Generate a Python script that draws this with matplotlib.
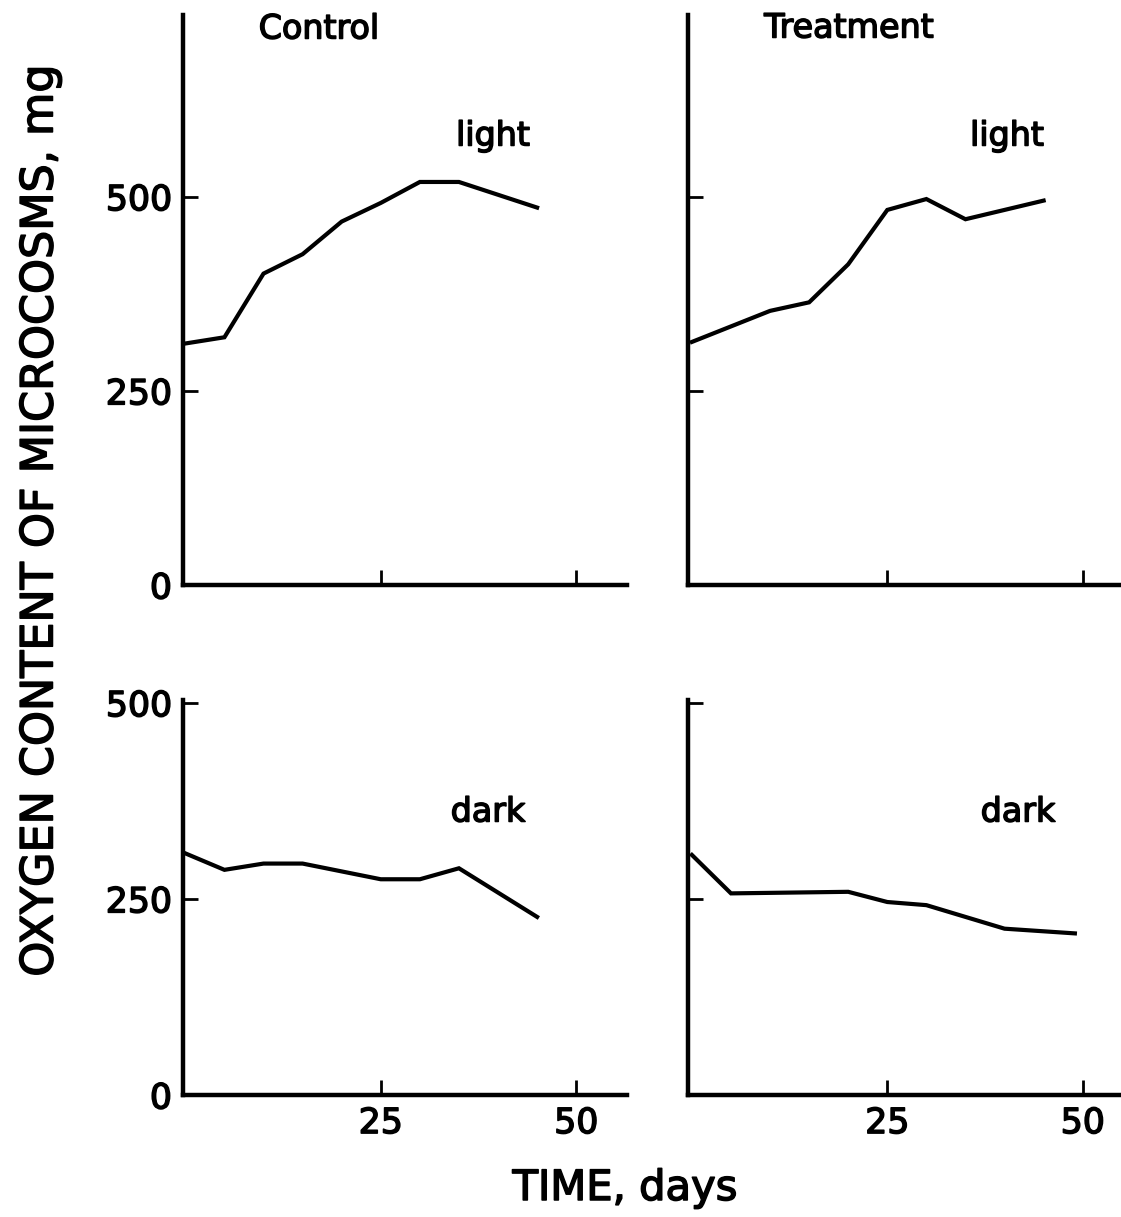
import matplotlib
matplotlib.use("Agg")
import matplotlib.pyplot as plt
import matplotlib.patheffects as pe

# ---- data ----
ctrl_light_days = [0, 5, 10, 15, 20, 25, 30, 35, 45]
ctrl_light_o2 = [311, 319, 401, 426, 468, 492, 519, 519, 486]

trt_light_days = [0, 10, 15, 20, 25, 30, 35, 45]
trt_light_o2 = [313, 353, 364, 413, 483, 497, 471, 495]

ctrl_dark_days = [0, 5, 10, 15, 20, 25, 30, 35, 45]
ctrl_dark_o2 = [308, 287, 295, 295, 285, 275, 275, 289, 227]

trt_dark_days = [0, 5, 20, 25, 30, 40, 49]
trt_dark_o2 = [306, 257, 259, 246, 242, 212, 206]

y_ticks = [0, 250, 500]
x_ticks = [25, 50]
panel_titles = ["Control", "Treatment"]
condition_labels = ["light", "dark"]
x_label = "TIME, days"
y_label = "OXYGEN CONTENT OF MICROCOSMS, mg"

W, H = 1121, 1217
plt.rcParams['font.family'] = ['DejaVu Sans']
fig = plt.figure(figsize=(W / 100, H / 100), dpi=100)

bold_fx = [pe.withStroke(linewidth=1.1, foreground="black")]


def rect(x0, x1, ybot, ytop):
    return [x0 / W, 1 - ybot / H, (x1 - x0) / W, (ybot - ytop) / H]


def style(ax, xlim, ylim, ylabels, xlabels):
    ax.set_xlim(*xlim)
    ax.set_ylim(*ylim)
    for s in ["top", "right"]:
        ax.spines[s].set_visible(False)
    for s in ["left", "bottom"]:
        ax.spines[s].set_linewidth(3.2)
        ax.spines[s].set_capstyle("projecting")
    ax.set_yticks(y_ticks)
    ax.set_xticks(x_ticks)
    ax.tick_params(direction="in", length=11, width=2, labelsize=25, pad=8)
    if not ylabels:
        ax.set_yticklabels([])
    if not xlabels:
        ax.set_xticklabels([])
    for t in ax.get_xticklabels() + ax.get_yticklabels():
        t.set_path_effects(bold_fx)
    ax.patch.set_alpha(0)


lw = 3.0
ax1 = fig.add_axes(rect(183, 627, 585, 15))
ax1.plot(ctrl_light_days, ctrl_light_o2, color="black", lw=lw, solid_joinstyle="miter")
style(ax1, (-0.3, 56.5), (0, 734), True, False)

ax2 = fig.add_axes(rect(688, 1121, 585, 15))
ax2.plot(trt_light_days, trt_light_o2, color="black", lw=lw, solid_joinstyle="miter")
style(ax2, (-0.5, 54.9), (0, 734), False, False)

ax3 = fig.add_axes(rect(183, 627, 1095, 700))
ax3.plot(ctrl_dark_days, ctrl_dark_o2, color="black", lw=lw, solid_joinstyle="miter")
style(ax3, (-0.3, 56.5), (0, 503.5), True, True)

ax4 = fig.add_axes(rect(688, 1121, 1095, 700))
ax4.plot(trt_dark_days, trt_dark_o2, color="black", lw=lw, solid_joinstyle="miter")
style(ax4, (-0.5, 54.9), (0, 503.5), False, True)


def ftext(x, y, s, **kw):
    fig.text(x / W, 1 - y / H, s, ha="center", va="center",
             path_effects=bold_fx, **kw)


ftext(319, 29, panel_titles[0], fontsize=24)
ftext(849, 28, panel_titles[1], fontsize=24)
ftext(493, 136, condition_labels[0], fontsize=24)
ftext(1007, 136, condition_labels[0], fontsize=24)
ftext(488, 812, condition_labels[1], fontsize=24)
ftext(1018, 812, condition_labels[1], fontsize=24)
ftext(625, 1188, x_label, fontsize=30)
ftext(40, 520, y_label, fontsize=32, rotation=90)

fig.savefig("out.png", dpi=100)
